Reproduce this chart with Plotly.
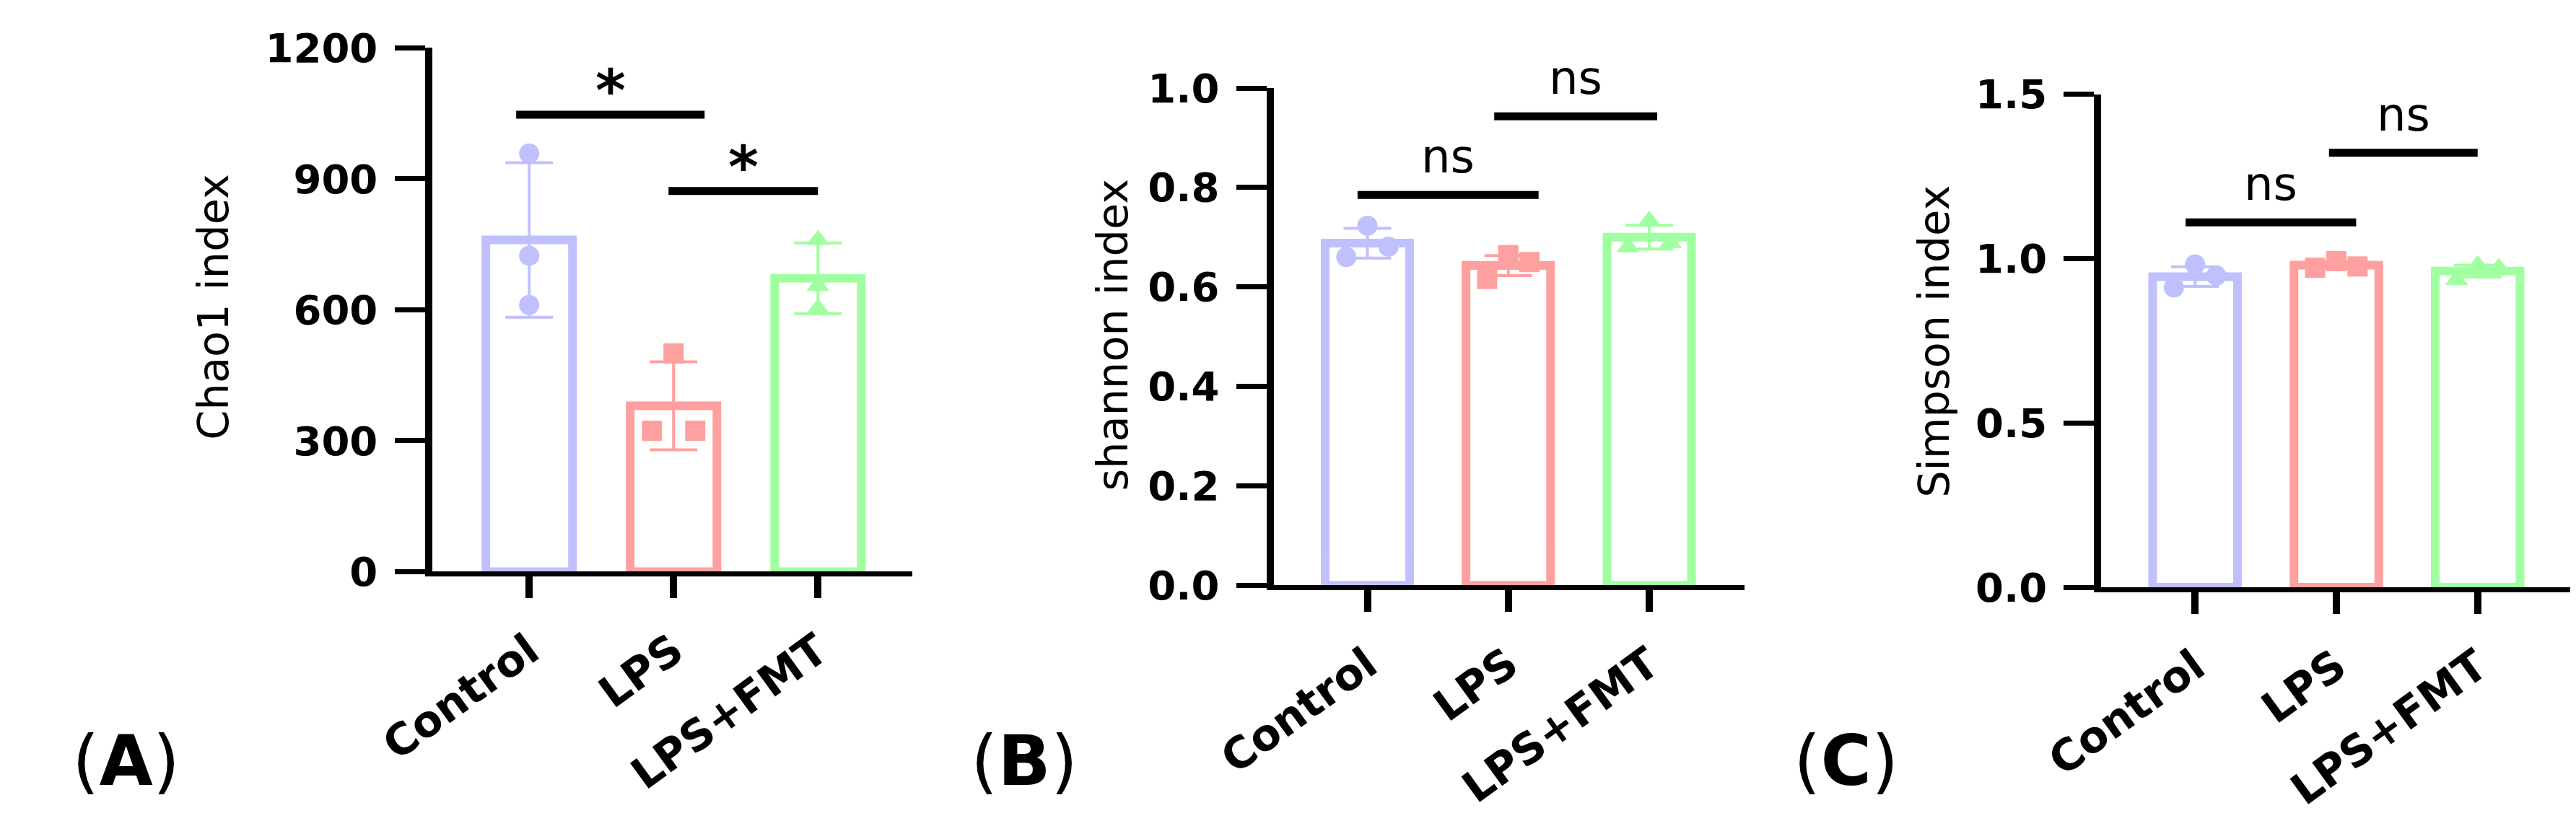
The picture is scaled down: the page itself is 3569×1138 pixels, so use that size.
import plotly.graph_objects as go

# ---- data ----
groups = ["Control", "LPS", "LPS+FMT"]
colors = ["#C0C0FF", "#FFA0A0", "#A0FFA0"]
symbols = ["circle", "square", "triangle-up"]

# (A) Chao1 index
chao1_mean = [760, 380, 672]
chao1_sd = [177, 101, 81]
chao1_points = [[958, 724, 611], [500, 323, 323], [760, 655, 603]]
chao1_ticks = [0, 300, 600, 900, 1200]

# (B) shannon index
shannon_mean = [0.688, 0.643, 0.700]
shannon_sd = [0.030, 0.020, 0.024]
shannon_points = [[0.723, 0.681, 0.660], [0.664, 0.650, 0.616], [0.733, 0.688, 0.680]]
shannon_ticks = [0.0, 0.2, 0.4, 0.6, 0.8, 1.0]

# (C) Simpson index
simpson_mean = [0.945, 0.980, 0.962]
simpson_sd = [0.030, 0.010, 0.018]
simpson_points = [[0.982, 0.948, 0.912], [0.992, 0.976, 0.972], [0.980, 0.972, 0.935]]
simpson_ticks = [0.0, 0.5, 1.0, 1.5]

# significance bars: (start, end, height, label)
chao1_sig = [(-0.09, 1.215, 1047, "*"), (0.965, 2.0, 872, "*")]
shannon_sig = [(-0.07, 1.215, 0.785, "ns"), (0.90, 2.057, 0.943, "ns")]
simpson_sig = [(-0.067, 1.14, 1.110, "ns"), (0.948, 2.0, 1.322, "ns")]

# ---- layout constants (pixels of the 3569x1138 canvas) ----
W, H = 3569, 1138
FONT = "DejaVu Sans"
SPREAD = 0.15   # horizontal spread of overlapping dots
CROWD = 0.04    # dots closer than this share of the axis get spread

panels = [
    dict(tag="A", title="Chao1 index", mean=chao1_mean, sd=chao1_sd, pts=chao1_points,
         ticks=chao1_ticks, fmt="", sig=chao1_sig,
         xpx=(517, 1199), ypx=(798, 28), xr=(-0.673, 2.654), tx=207, ty=409, lx=4),
    dict(tag="B", title="shannon index", mean=shannon_mean, sd=shannon_sd, pts=shannon_points,
         ticks=shannon_ticks, fmt=".1f", sig=shannon_sig,
         xpx=(1712, 2380), ypx=(818, 87), xr=(-0.665, 2.675), tx=1483, ty=450, lx=1280),
    dict(tag="C", title="Simpson index", mean=simpson_mean, sd=simpson_sd, pts=simpson_points,
         ticks=simpson_ticks, fmt=".1f", sig=simpson_sig,
         xpx=(2887, 3559), ypx=(821, 96), xr=(-0.663, 2.687), tx=2650, ty=460, lx=2448),
]

fig = go.Figure()
shapes = []
annotations = []

for k, p in enumerate(panels):
    n = "" if k == 0 else str(k + 1)
    xa, ya = "x" + n, "y" + n
    ymax = p["ticks"][-1]

    for i, g in enumerate(groups):
        fig.add_trace(go.Bar(
            x=[i], y=[p["mean"][i]], xaxis=xa, yaxis=ya, width=0.6,
            marker=dict(color="white", line=dict(color=colors[i], width=12)),
            error_y=dict(type="data", array=[p["sd"][i]], color=colors[i],
                         thickness=4, width=33),
            name=g, hoverinfo="y",
        ))

    for i, g in enumerate(groups):
        vals = sorted(p["pts"][i], reverse=True)
        xs = []
        for r, v in enumerate(vals):
            crowded = any(abs(v - w) < CROWD * ymax for j, w in enumerate(vals) if j != r)
            off = [0, SPREAD, -SPREAD][r] if crowded else 0
            xs.append(i + off)
        fig.add_trace(go.Scatter(
            x=xs, y=vals, xaxis=xa, yaxis=ya, mode="markers",
            marker=dict(symbol=symbols[i], color=colors[i], size=28, line=dict(width=0)),
            name=g, hoverinfo="y",
        ))

    for x0, x1, h, lab in p["sig"]:
        shapes.append(dict(type="line", xref=xa, yref=ya, x0=x0, x1=x1, y0=h, y1=h,
                           line=dict(color="black", width=11)))
        star = lab == "*"
        annotations.append(dict(
            xref=xa, yref=ya, x=(x0 + x1) / 2, y=h, text=lab, showarrow=False,
            xanchor="center", yanchor="middle", yshift=33 if star else 53,
            font=dict(family=FONT, size=80 if star else 64, color="black",
                      weight="bold" if star else "normal"),
        ))

    annotations.append(dict(
        xref="paper", yref="paper", x=p["tx"] / W, y=1 - p["ty"] / H,
        text=p["title"], textangle=-90, showarrow=False,
        xanchor="center", yanchor="middle",
        font=dict(family=FONT, size=59, color="black"),
    ))
    annotations.append(dict(
        xref="paper", yref="paper", x=p["lx"] / W, y=1 - 1076 / H,
        text="(<b>%s</b>)" % p["tag"], showarrow=False,
        xanchor="left", yanchor="middle",
        font=dict(family=FONT, size=96, color="black"),
    ))

    fig.update_layout(**{
        "xaxis" + n: dict(
            domain=[p["xpx"][0] / W, p["xpx"][1] / W], range=list(p["xr"]),
            anchor=ya, tickvals=[0, 1, 2], ticktext=groups, tickangle=-36,
            showline=True, linecolor="black", linewidth=7,
            ticks="outside", ticklen=30, tickwidth=10, tickcolor="black",
            ticklabelstandoff=14, showgrid=False, zeroline=False,
            tickfont=dict(family=FONT, size=60, color="black", weight="bold"),
        ),
        "yaxis" + n: dict(
            domain=[1 - p["ypx"][0] / H, 1 - p["ypx"][1] / H], range=[0, ymax],
            anchor=xa, tickvals=p["ticks"], tickformat=p["fmt"],
            showline=True, linecolor="black", linewidth=10,
            ticks="outside", ticklen=42, tickwidth=7, tickcolor="black",
            ticklabelstandoff=12, showgrid=False, zeroline=False,
            tickfont=dict(family=FONT, size=56, color="black", weight="bold"),
        ),
    })

fig.update_layout(
    width=W, height=H,
    margin=dict(l=0, r=0, t=0, b=0),
    paper_bgcolor="white", plot_bgcolor="white",
    showlegend=False, barmode="overlay",
    shapes=shapes, annotations=annotations,
)

fig.write_html("out.html")
